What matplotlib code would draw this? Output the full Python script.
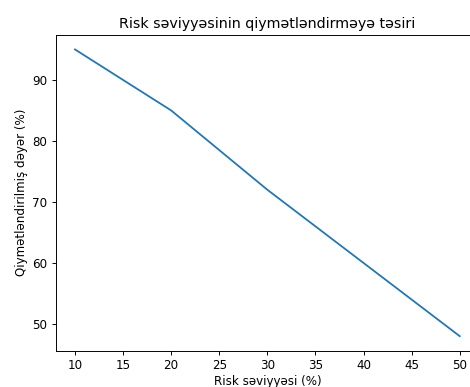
import matplotlib
matplotlib.use("Agg")
from matplotlib import pyplot as plt

# data
risk_levels = [10, 20, 30, 40, 50]
valuations = [95, 85, 72, 60, 48]

# the reference looks like a default chart scaled down a bit
s = 0.855
plt.rcParams.update({
    "font.size": 10 * s,
    "axes.titlesize": 12 * s,
    "lines.linewidth": 1.5 * s,
    "axes.linewidth": 0.8 * s,
    "xtick.major.size": 3.5 * s,
    "ytick.major.size": 3.5 * s,
    "xtick.major.width": 0.8 * s,
    "ytick.major.width": 0.8 * s,
    "xtick.major.pad": 3.5 * s,
    "ytick.major.pad": 3.5 * s,
})

fig = plt.figure(figsize=(4.7, 3.87), dpi=100)
# axes runs slightly past the right edge, as in the reference
ax = fig.add_axes([0.1186, 0.0943, 0.9005, 0.815])
ax.plot(risk_levels, valuations)
ax.set_title("Risk səviyyəsinin qiymətləndirməyə təsiri", pad=6 * s)
ax.set_xlabel("Risk səviyyəsi (%)", labelpad=3 * s)
ax.set_ylabel("Qiymətləndirilmiş dəyər (%)", labelpad=4 * s)
ax.set_xticks(range(10, 51, 5))
ax.set_yticks(range(50, 91, 10))

fig.savefig("out.png", dpi=100)
